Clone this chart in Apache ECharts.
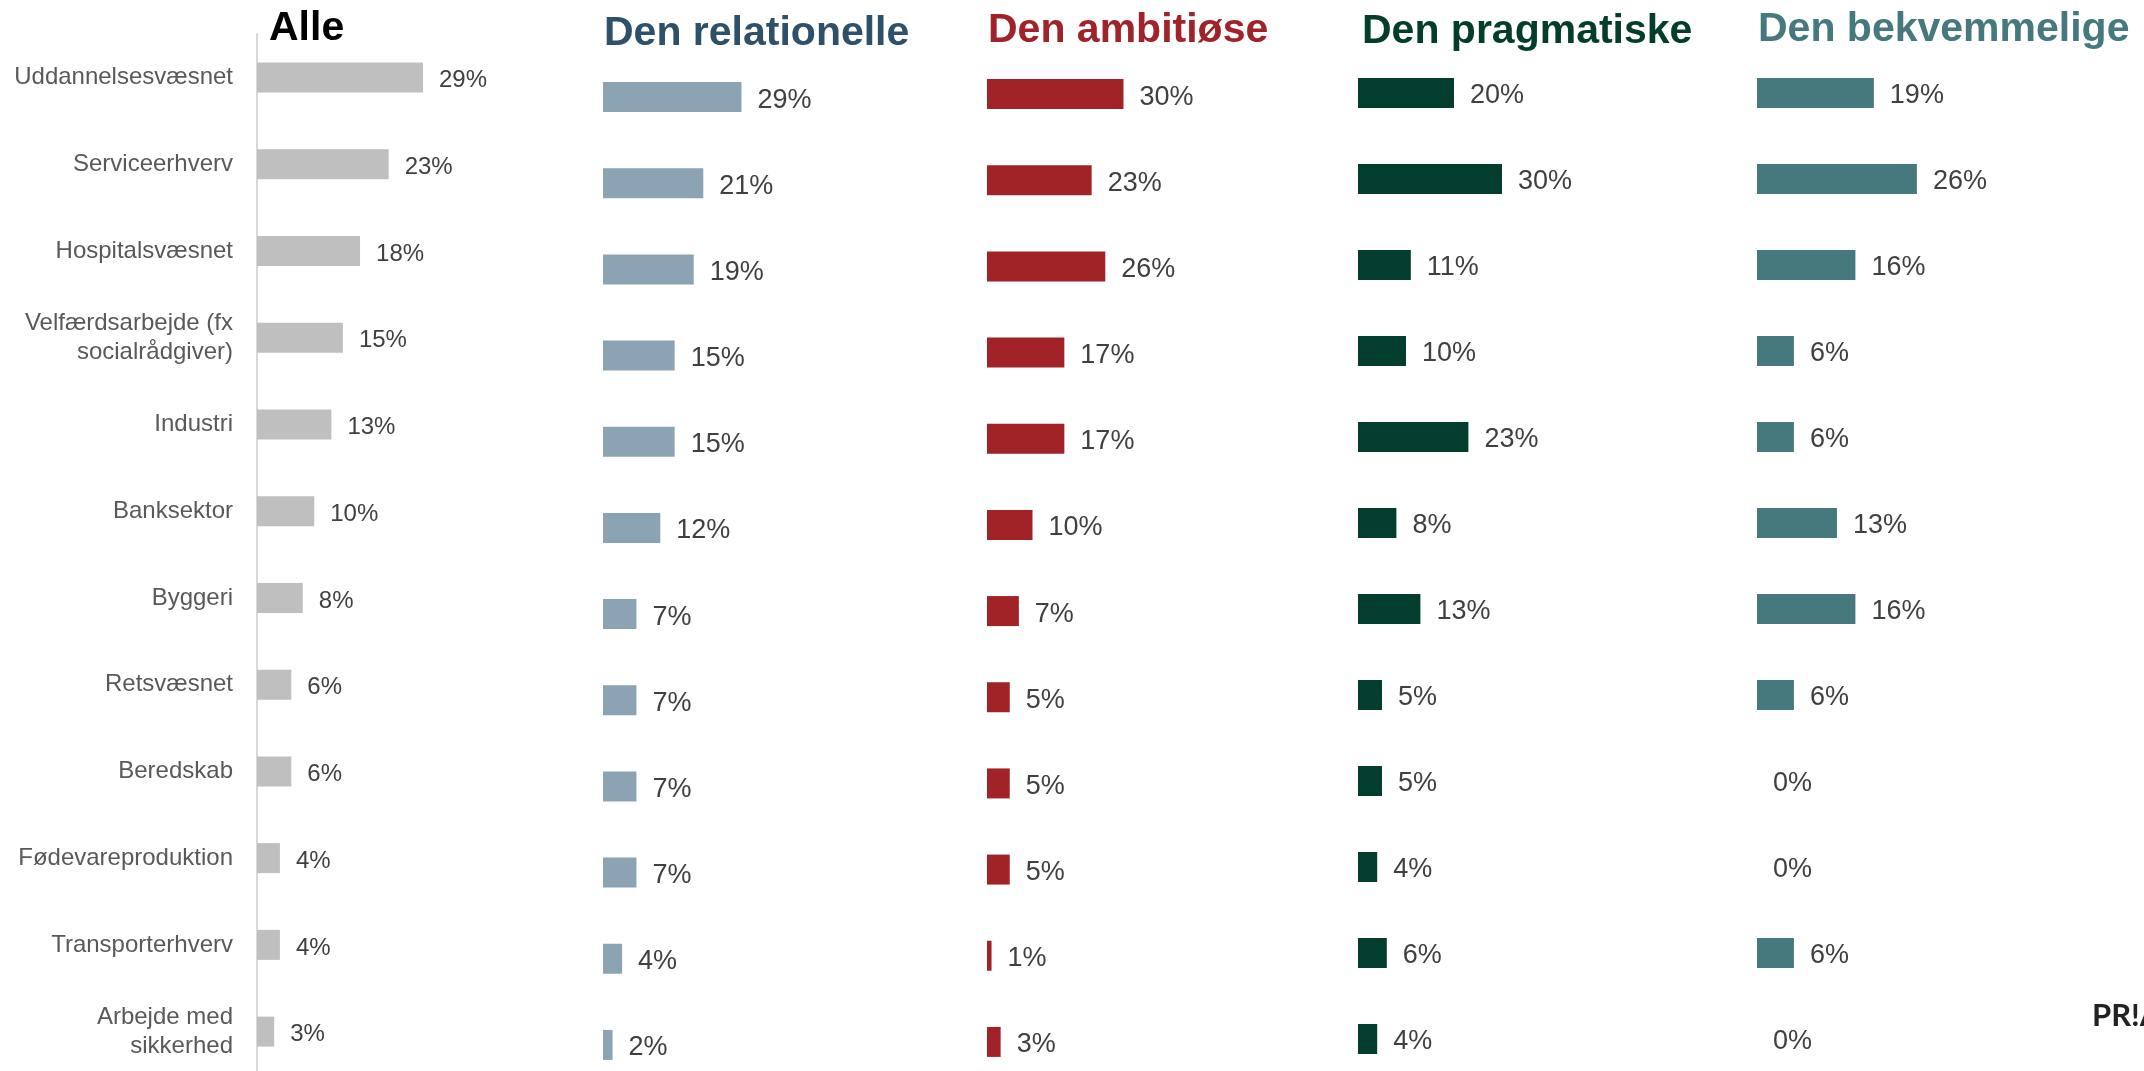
<!DOCTYPE html>
<html>
<head>
<meta charset="utf-8">
<script src="https://cdn.jsdelivr.net/npm/echarts@6/dist/echarts.min.js"></script>
<style>
  html, body { margin: 0; padding: 0; background: #ffffff; }
  #chart { width: 2144px; height: 1071px; }
</style>
</head>
<body>
<div id="chart"></div>
<script>
// Sectors, top to bottom
const categories = [
  'Uddannelsesvæsnet',
  'Serviceerhverv',
  'Hospitalsvæsnet',
  'Velfærdsarbejde (fx\nsocialrådgiver)',
  'Industri',
  'Banksektor',
  'Byggeri',
  'Retsvæsnet',
  'Beredskab',
  'Fødevareproduktion',
  'Transporterhverv',
  'Arbejde med\nsikkerhed'
];

// Share (%) per group
const alle         = [29, 23, 18, 15, 13, 10, 8, 6, 6, 4, 4, 3];
const relationelle = [29, 21, 19, 15, 15, 12, 7, 7, 7, 7, 4, 2];
const ambitiose    = [30, 23, 26, 17, 17, 10, 7, 5, 5, 5, 1, 3];
const pragmatiske  = [20, 30, 11, 10, 23, 8, 13, 5, 5, 4, 6, 4];
const bekvemmelige = [19, 26, 16, 6, 6, 13, 16, 6, 0, 0, 6, 0];

const groupTitles = ['Alle', 'Den relationelle', 'Den ambitiøse', 'Den pragmatiske', 'Den bekvemmelige'];
const logoText = 'PR!A';

const FONT = '"Liberation Sans", Arial, Helvetica, sans-serif';

// Layout of each small panel
const panels = [
  { data: alle,         color: '#BFBFBF', titleColor: '#000000', left: 257,  top: 34, height: 1041, width: 229, titleX: 269,  titleY: 29,   labelSize: 24 },
  { data: relationelle, color: '#8BA3B2', titleColor: '#2F5069', left: 603,  top: 54, height: 1034, width: 191, titleX: 604,  titleY: 34.5, labelSize: 27 },
  { data: ambitiose,    color: '#A12328', titleColor: '#A0232A', left: 987,  top: 51, height: 1034, width: 182, titleX: 988,  titleY: 31,   labelSize: 27 },
  { data: pragmatiske,  color: '#033D2E', titleColor: '#053D2D', left: 1358, top: 50, height: 1032, width: 192, titleX: 1362, titleY: 32,   labelSize: 27 },
  { data: bekvemmelige, color: '#45797D', titleColor: '#46797D', left: 1757, top: 50, height: 1032, width: 246, titleX: 1758, titleY: 30.5, labelSize: 27 }
];

const grid = [], xAxis = [], yAxis = [], series = [], graphic = [];

panels.forEach((p, i) => {
  grid.push({
    left: p.left, top: p.top, width: p.width, height: p.height,
    containLabel: false,
    outerBoundsMode: 'none'
  });
  xAxis.push({
    gridIndex: i, type: 'value', min: 0, max: 40, show: false
  });
  yAxis.push({
    gridIndex: i,
    type: 'category',
    inverse: true,
    data: categories,
    axisLine: { show: i === 0, lineStyle: { color: '#D9D9D9', width: 2 } },
    axisTick: { show: false },
    axisLabel: {
      show: i === 0,
      margin: 24,
      color: '#595959',
      fontFamily: FONT,
      fontSize: 24,
      lineHeight: 29,
      align: 'right'
    },
    splitLine: { show: false }
  });
  series.push({
    type: 'bar',
    xAxisIndex: i,
    yAxisIndex: i,
    data: p.data,
    barWidth: 30,
    itemStyle: { color: p.color },
    label: {
      show: true,
      position: 'right',
      distance: 16,
      offset: [0, 3],
      formatter: '{c}%',
      color: '#404040',
      fontFamily: FONT,
      fontSize: p.labelSize
    },
    silent: true,
    animation: false
  });
  graphic.push({
    type: 'text',
    left: p.titleX,
    top: p.titleY - 21,
    style: {
      text: groupTitles[i],
      fill: p.titleColor,
      font: 'bold 41px ' + FONT,
      verticalAlign: 'top'
    }
  });
});

graphic.push({
  type: 'text',
  left: 2092,
  top: 1000,
  style: {
    text: logoText,
    fill: '#222222',
    font: 'bold 31px Lato, "Open Sans", sans-serif'
  }
});

const chart = echarts.init(document.getElementById('chart'), null, { renderer: 'canvas' });
chart.setOption({
  backgroundColor: '#ffffff',
  animation: false,
  grid, xAxis, yAxis, series, graphic
});
</script>
</body>
</html>
